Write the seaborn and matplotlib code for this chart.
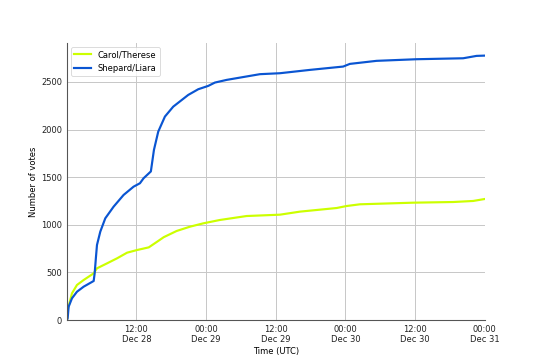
import numpy as np
import pandas as pd
import matplotlib
matplotlib.use("Agg")
import matplotlib.pyplot as plt
import matplotlib.dates as mdates
import seaborn as sns

start = pd.Timestamp("2017-12-28 00:02")

shep_hours = [0, 0.12, 0.29, 0.86, 1.72, 2.87, 4.6, 4.77, 5.0, 5.17, 5.74, 6.6, 8.03, 9.75,
              11.47, 12.57, 13.19, 14.45, 14.98, 15.72, 16.87, 18.30, 20.88, 22.61, 24.33,
              25.48, 27.50, 33.23, 36.67, 41.84, 47.57, 48.72, 53.32, 60.21, 68.23, 70.54, 71.98]
shep_votes = [0, 18, 140, 228, 297, 350, 410, 490, 665, 788, 928, 1068, 1190, 1313,
              1400, 1436, 1488, 1560, 1786, 1978, 2136, 2240, 2363, 2423, 2458,
              2493, 2521, 2581, 2591, 2626, 2661, 2689, 2721, 2738, 2748, 2773, 2776]

carol_hours = [0, 0.12, 0.86, 1.72, 2.87, 4.6, 5.17, 6.9, 8.63, 10.35, 12.07, 14.09, 15.52,
               16.67, 18.89, 21.18, 23.47, 26.3, 30.94, 36.67, 40.12, 46.44, 48.16, 50.45,
               59.62, 66.51, 69.95, 71.98]
carol_votes = [0, 105, 280, 368, 420, 490, 543, 595, 648, 707, 735, 763, 822,
               870, 935, 980, 1015, 1050, 1092, 1106, 1138, 1176, 1197, 1215,
               1232, 1239, 1250, 1271]

series_names = ["Carol/Therese", "Shepard/Liara"]
colors = {"Carol/Therese": "#ccff00", "Shepard/Liara": "#0a55d2"}

df = pd.concat([
    pd.DataFrame({"time": start + pd.to_timedelta(carol_hours, unit="h"),
                  "votes": carol_votes, "pair": series_names[0]}),
    pd.DataFrame({"time": start + pd.to_timedelta(shep_hours, unit="h"),
                  "votes": shep_votes, "pair": series_names[1]}),
])

plt.rcParams["font.family"] = ["DejaVu Sans"]
fig = plt.figure(figsize=(9, 6), dpi=60)
ax = fig.add_axes([0.124, 0.111, 0.774, 0.77])

sns.lineplot(data=df, x="time", y="votes", hue="pair", palette=colors,
             hue_order=series_names, linewidth=2.6, ax=ax, estimator=None, sort=False)

ax.set_xlim(df["time"].min(), df["time"].max())
ax.set_ylim(0, 2910)
ax.xaxis.set_major_locator(mdates.HourLocator(byhour=[0, 12]))
ax.xaxis.set_major_formatter(mdates.DateFormatter("%H:%M\n%b %d"))
ax.set_yticks([0, 500, 1000, 1500, 2000, 2500])
ax.grid(True, color="#c8c8c8", linewidth=1.2)
ax.set_axisbelow(True)
for s in ["top", "right"]:
    ax.spines[s].set_visible(False)
for s in ["left", "bottom"]:
    ax.spines[s].set_color("#555555")
    ax.spines[s].set_linewidth(1.3)
ax.tick_params(length=0, labelsize=10, colors="#222222", pad=6)
ax.set_xlabel("Time (UTC)", fontsize=10, labelpad=3)
ax.set_ylabel("Number of votes", fontsize=10)
leg = ax.legend(loc="upper left", fontsize=10, title=None, frameon=True)
leg.get_frame().set_edgecolor("#cccccc")

fig.savefig("out.png", dpi=60)
